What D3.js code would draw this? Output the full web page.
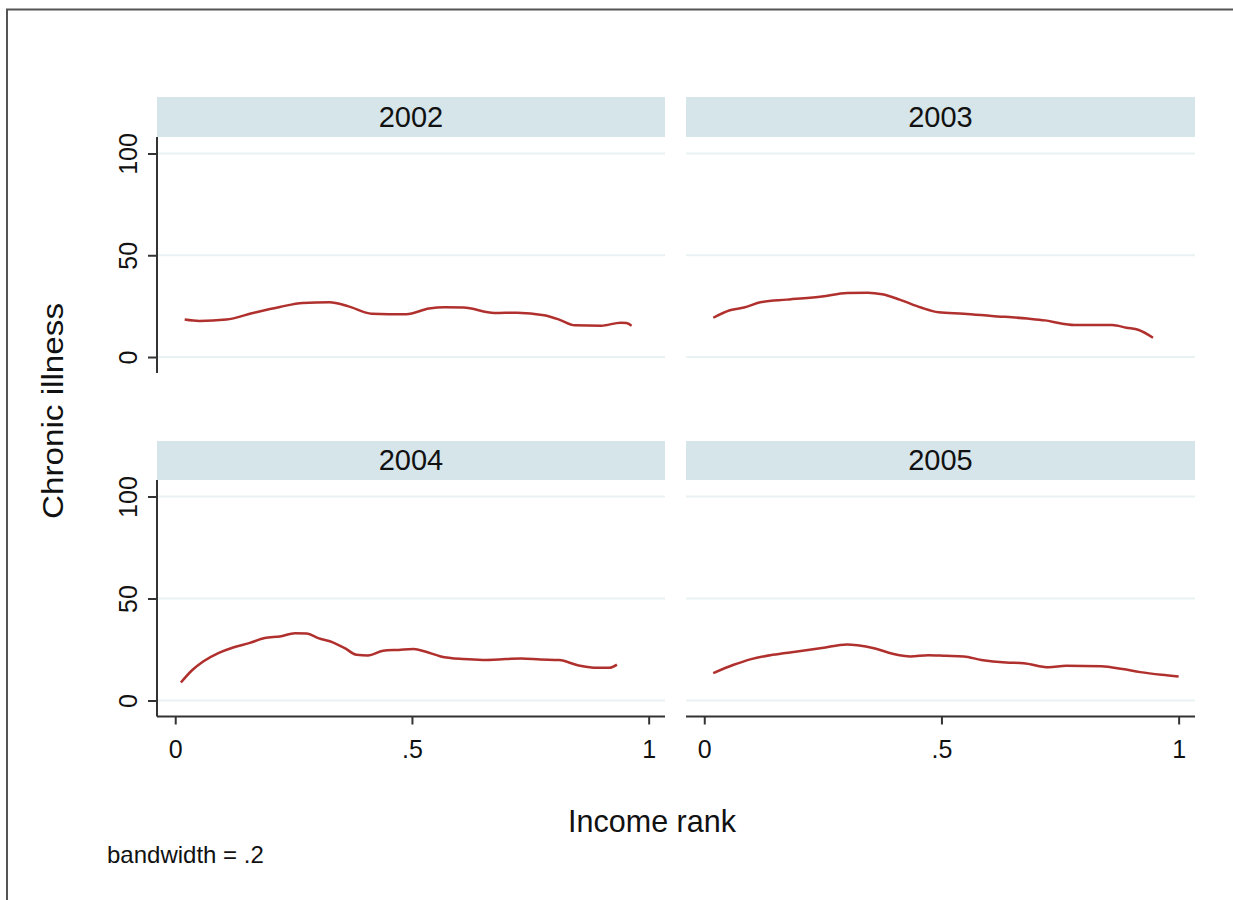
<!DOCTYPE html>
<html>
<head>
<meta charset="utf-8">
<script src="https://cdn.jsdelivr.net/npm/d3@7"></script>
<style>
  html, body { margin: 0; padding: 0; background: #fff; }
  svg { display: block; font-family: "Liberation Sans", Arial, Helvetica, sans-serif; }
</style>
</head>
<body>
<svg id="chart" width="1233" height="900"></svg>
<script>
// Lowess smooth of chronic illness (%) on income rank, by survey year
const years = ["2002", "2003", "2004", "2005"];

const rank2002 = [0.020, 0.051, 0.108, 0.164, 0.221, 0.269, 0.326, 0.366, 0.415, 0.488, 0.536, 0.569, 0.609, 0.674, 0.722, 0.779, 0.811, 0.844, 0.900, 0.941, 0.953, 0.964];
const ill2002  = [18.4, 17.7, 18.4, 21.6, 24.6, 26.6, 26.9, 24.9, 21.3, 21.0, 23.8, 24.4, 24.3, 21.6, 21.8, 20.5, 18.4, 15.6, 15.4, 16.9, 16.7, 15.4];

const rank2003 = [0.019, 0.054, 0.084, 0.118, 0.174, 0.248, 0.301, 0.345, 0.375, 0.412, 0.457, 0.494, 0.547, 0.606, 0.681, 0.718, 0.755, 0.785, 0.860, 0.890, 0.916, 0.946];
const ill2003  = [19.3, 23.0, 24.3, 26.9, 28.2, 29.7, 31.5, 31.6, 30.8, 28.2, 24.3, 22.0, 21.3, 20.2, 18.9, 18.0, 16.4, 15.7, 15.7, 14.4, 13.3, 9.5];

const rank2004 = [0.012, 0.035, 0.059, 0.091, 0.124, 0.156, 0.189, 0.221, 0.253, 0.278, 0.302, 0.334, 0.358, 0.383, 0.407, 0.439, 0.472, 0.504, 0.528, 0.561, 0.609, 0.650, 0.698, 0.731, 0.771, 0.811, 0.852, 0.892, 0.917, 0.933];
const ill2004  = [8.8, 14.7, 19.1, 23.2, 26.1, 28.1, 30.6, 31.4, 33.0, 32.8, 30.6, 28.4, 25.7, 22.4, 22.1, 24.4, 24.8, 25.2, 24.0, 21.6, 20.3, 19.9, 20.3, 20.6, 20.1, 19.8, 17.2, 16.0, 16.0, 17.6];

const rank2005 = [0.019, 0.062, 0.099, 0.144, 0.196, 0.248, 0.301, 0.323, 0.360, 0.397, 0.435, 0.472, 0.509, 0.547, 0.584, 0.636, 0.673, 0.726, 0.763, 0.837, 0.882, 0.919, 0.964, 1.000];
const ill2005  = [13.4, 17.5, 20.3, 22.4, 24.0, 25.7, 27.5, 27.1, 25.5, 22.9, 21.6, 22.2, 21.9, 21.6, 19.9, 18.6, 18.3, 16.3, 17.0, 16.8, 15.4, 13.9, 12.6, 11.8];

const xTicks = [0, 0.5, 1];
const xTickLabels = ["0", ".5", "1"];
const yTicks = [0, 50, 100];
const yTickLabels = ["0", "50", "100"];

const xTitle = "Income rank";
const yTitle = "Chronic illness";
const note = "bandwidth = .2";

const series = [
  { year: years[0], x: rank2002, y: ill2002 },
  { year: years[1], x: rank2003, y: ill2003 },
  { year: years[2], x: rank2004, y: ill2004 },
  { year: years[3], x: rank2005, y: ill2005 }
];

const svg = d3.select("#chart");

// Outer graph frame
svg.append("rect")
  .attr("x", 7).attr("y", 9.5)
  .attr("width", 1300).attr("height", 1000)
  .attr("fill", "none").attr("stroke", "#555").attr("stroke-width", 2);

// Panel geometry
const cols = [{ x0: 157, x1: 665 }, { x0: 686, x1: 1195 }];
const rows = [{ s0: 97, s1: 137, y1: 373 }, { s0: 441, s1: 480, y1: 716.5 }];

const stripFill = "#d6e5ea";
const gridColor = "#e9f2f3";
const axisColor = "#333";
const lineColor = "#b0302e";

series.forEach((s, i) => {
  const c = cols[i % 2], r = rows[Math.floor(i / 2)];
  const x = d3.scaleLinear().domain([-0.0385, 1.0345]).range([c.x0, c.x1]);
  const y = d3.scaleLinear().domain([-7.85, 108.1]).range([r.y1, r.s1]);
  const g = svg.append("g");

  // strip
  g.append("rect")
    .attr("x", c.x0).attr("y", r.s0)
    .attr("width", c.x1 - c.x0).attr("height", r.s1 - r.s0)
    .attr("fill", stripFill);
  g.append("text")
    .attr("x", (c.x0 + c.x1) / 2).attr("y", (r.s0 + r.s1) / 2 + 9.8)
    .attr("text-anchor", "middle")
    .attr("font-size", 29).attr("fill", "#111")
    .text(s.year);

  // gridlines
  g.selectAll("line.grid").data(yTicks).join("line")
    .attr("class", "grid")
    .attr("x1", c.x0).attr("x2", c.x1)
    .attr("y1", d => y(d)).attr("y2", d => y(d))
    .attr("stroke", gridColor).attr("stroke-width", 2);

  // y axis on the left column
  if (i % 2 === 0) {
    const ya = g.append("g").attr("transform", `translate(${c.x0},0)`)
      .call(d3.axisLeft(y).tickValues(yTicks).tickSize(9).tickFormat((d, k) => yTickLabels[k]));
    ya.select(".domain").attr("d", `M0,${r.s1}V${r.y1}`).attr("stroke", axisColor).attr("stroke-width", 2);
    ya.selectAll(".tick line").attr("stroke", axisColor).attr("stroke-width", 2);
    ya.selectAll(".tick text")
      .attr("font-size", 25).attr("fill", "#111")
      .attr("font-family", "Liberation Sans, Arial, sans-serif")
      .attr("text-anchor", "middle")
      .attr("x", null).attr("dy", null)
      .attr("transform", "translate(-20,0) rotate(-90)");
  }

  // x axis on the bottom row
  if (i >= 2) {
    const xa = g.append("g").attr("transform", `translate(0,${r.y1})`)
      .call(d3.axisBottom(x).tickValues(xTicks).tickSize(8).tickFormat((d, k) => xTickLabels[k]));
    xa.select(".domain").attr("d", `M${c.x0},0H${c.x1}`).attr("stroke", axisColor).attr("stroke-width", 2);
    xa.selectAll(".tick line").attr("stroke", axisColor).attr("stroke-width", 2);
    xa.selectAll(".tick text")
      .attr("font-size", 25).attr("fill", "#111")
      .attr("font-family", "Liberation Sans, Arial, sans-serif")
      .attr("y", 41.5).attr("dy", null);
  }

  // lowess curve
  const pts = s.x.map((v, k) => [v, s.y[k]]);
  g.append("path")
    .datum(pts)
    .attr("fill", "none")
    .attr("stroke", lineColor)
    .attr("stroke-width", 2.5)
    .attr("stroke-linejoin", "round")
    .attr("d", d3.line().x(d => x(d[0])).y(d => y(d[1])).curve(d3.curveMonotoneX));
});

// axis titles and note
svg.append("text")
  .attr("transform", "translate(63,411) rotate(-90)")
  .attr("text-anchor", "middle")
  .attr("font-size", 30).attr("fill", "#111")
  .attr("textLength", 216).attr("lengthAdjust", "spacingAndGlyphs")
  .text(yTitle);

svg.append("text")
  .attr("x", 652).attr("y", 832)
  .attr("text-anchor", "middle")
  .attr("font-size", 30.5).attr("fill", "#111")
  .text(xTitle);

svg.append("text")
  .attr("x", 107).attr("y", 863)
  .attr("font-size", 24).attr("fill", "#111")
  .text(note);
</script>
</body>
</html>
